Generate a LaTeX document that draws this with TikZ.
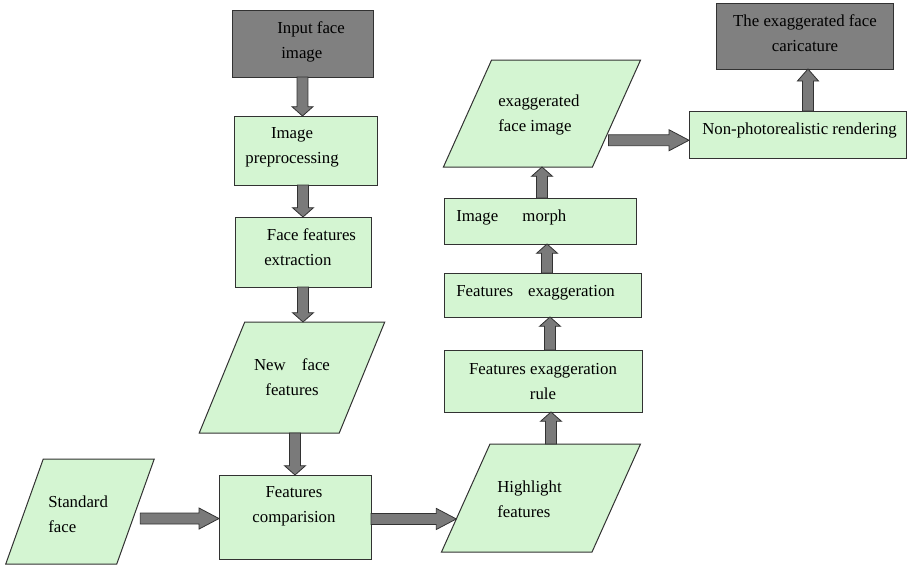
\documentclass[tikz,border=0pt]{standalone}
\usepackage{fontspec}
\setmainfont{Liberation Serif}
\usetikzlibrary{calc}
\definecolor{boxgreen}{RGB}{212,245,210}
\definecolor{boxgray}{RGB}{128,128,128}
\definecolor{arrowfill}{RGB}{122,122,122}
\definecolor{edgecol}{RGB}{50,50,50}
\newcommand{\bahead}{7pt}
\tikzset{
  box/.style={draw=edgecol, line width=0.75pt, fill=boxgreen, rectangle, inner sep=0pt, outer sep=0pt},
  graybox/.style={box, fill=boxgray},
  txt/.style={font=\fontsize{12.6pt}{18.75pt}\selectfont, inner sep=0pt, text=black},
  ahlen/.code={\renewcommand{\bahead}{#1}},
  barrow/.style={draw=edgecol, fill=arrowfill, line width=0.6pt, line join=miter,
    to path={let \p1=(\tikztostart), \p2=(\tikztotarget),
      \n1={atan2(\y2-\y1,\x2-\x1)}, \n2={veclen(\x2-\x1,\y2-\y1)} in
      ([shift={(\p1)},rotate=\n1]0pt,-4.1pt)
      -- ([shift={(\p1)},rotate=\n1]{\n2*1pt-\bahead},-4.1pt)
      -- ([shift={(\p1)},rotate=\n1]{\n2*1pt-\bahead},-7.9pt)
      -- ([shift={(\p1)},rotate=\n1]{\n2*1pt},0pt)
      -- ([shift={(\p1)},rotate=\n1]{\n2*1pt-\bahead},7.9pt)
      -- ([shift={(\p1)},rotate=\n1]{\n2*1pt-\bahead},4.1pt)
      -- ([shift={(\p1)},rotate=\n1]0pt,4.1pt) -- cycle}}
}
\begin{document}
\begin{tikzpicture}[x=0.75pt, y=-0.75pt]
\useasboundingbox (0,0) rectangle (907,568);

% shapes
\node[graybox, minimum width=105.75pt, minimum height=50.25pt] (inp) at (302.5,43.5) {};
\node[box, minimum width=107.25pt, minimum height=51.75pt] (pre) at (305.5,150.5) {};
\node[box, minimum width=102pt, minimum height=52.5pt] (ext) at (303,252) {};
\node[box, minimum width=105pt, minimum height=83.25pt, xslant=0.41] (nf) at (292,377.5) {};
\node[box, minimum width=83.25pt, minimum height=78.75pt, xslant=0.357] (std) at (80,511.5) {};
\node[box, minimum width=114pt, minimum height=63pt] (cmp) at (295,517) {};
\node[box, minimum width=112.9pt, minimum height=81pt, xslant=0.449] (hl) at (541,498) {};
\node[box, minimum width=148.5pt, minimum height=46.5pt] (rule) at (543,381) {};
\node[box, minimum width=147.75pt, minimum height=33pt] (exg) at (542.5,295) {};
\node[box, minimum width=144pt, minimum height=34.5pt] (mor) at (540,221) {};
\node[box, minimum width=111.75pt, minimum height=80.25pt, xslant=0.45] (ex) at (542,113.5) {};
\node[box, minimum width=162.75pt, minimum height=35.25pt] (npr) at (797.5,134.5) {};
\node[graybox, minimum width=132.75pt, minimum height=49.5pt] (car) at (804.5,36) {};

% texts
\node[txt, anchor=west, align=left] (tinp) at (277,41.5) {Input face\\\hspace*{3pt}image};
\node[txt, align=center] (tpre) at (292,147) {Image\\preprocessing};
\node[txt, anchor=west, align=left] (text) at (264,247) {\hspace*{2pt}Face features\\extraction};
\node[txt, align=center] (tnf) at (292,377.5) {New\hspace{9pt} face\\features};
\node[txt, anchor=west, align=left] (tstd) at (48,514) {Standard\\face};
\node[txt, align=center] (tcmp) at (294,506) {Features\\comparision};
\node[txt, anchor=west, align=left] (thl) at (497,499.5) {Highlight\\features};
\node[txt, align=center] (trule) at (543,381.5) {Features exaggeration\\rule};
\node[txt, anchor=west] (texg) at (456,293) {Features\hspace{8pt} exaggeration};
\node[txt, anchor=west] (tmor) at (456,217) {Image\hspace{15pt} morph};
\node[txt, anchor=west, align=left] (tex) at (498,114.5) {exaggerated\\face image};
\node[txt, anchor=west] (tnpr) at (702,130) {Non-photorealistic rendering};
\node[txt, align=center] (tcar) at (805,33) {The exaggerated face\\caricature};

% helper coordinates
\coordinate (s5) at ($(std.north east)!0.567!(std.south east)+(5.5pt,0)$);
\coordinate (e6) at ($(hl.north west)!0.694!(hl.south west)$);
\coordinate (c7) at ($(rule.south)+(6pt,0)$);
\coordinate (c8) at ($(rule.north)+(5.25pt,0)$);
\coordinate (c9) at ($(exg.north)+(3.4pt,0)$);
\coordinate (c10) at ($(mor.north)+(1.5pt,0)$);
\coordinate (s11) at ($(ex.north east)!0.75!(ex.south east)+(3pt,0)$);
\coordinate (c12) at ($(car.south)+(2.6pt,0)$);

% connectors
\draw[barrow] (inp.south) to (inp.south |- pre.north);
\draw[barrow] (pre.south -| ext.north) to (ext.north);
\draw[barrow] (ext.south) to (ext.south |- nf.north);
\draw[barrow] (cmp.north |- nf.south) to (cmp.north);
\draw[barrow, ahlen=15pt] (s5) to (cmp.west |- s5);
\draw[barrow, ahlen=15pt] (cmp.east |- e6) to (e6);
\draw[barrow] (c7 |- hl.north) to (c7);
\draw[barrow] (c8) to (c8 |- exg.south);
\draw[barrow] (c9) to (c9 |- mor.south);
\draw[barrow] (c10) to (c10 |- ex.south);
\draw[barrow, ahlen=15pt] (s11) to (npr.west |- s11);
\draw[barrow, ahlen=9pt] (c12 |- npr.north) to (c12);
\end{tikzpicture}
\end{document}
